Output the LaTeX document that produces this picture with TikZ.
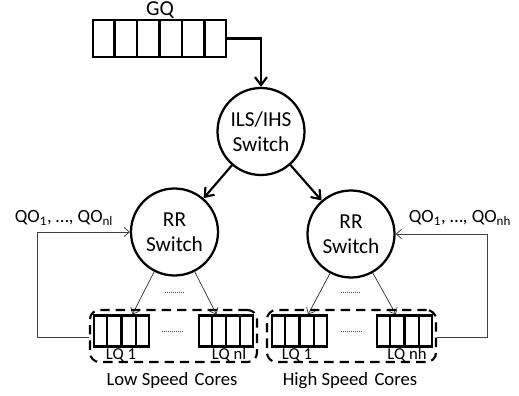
\documentclass[tikz,border=0pt]{standalone}
\usepackage{fontspec}
\setmainfont{Carlito}
\usetikzlibrary{arrows.meta,calc}
\begin{document}
\begin{tikzpicture}[x=0.75pt,y=-0.75pt,
  thickln/.style={line width=1.6pt},
  queuebox/.style={draw,line width=1.6pt,rectangle,inner sep=0pt},
  switchnode/.style={draw,circle,line width=1.7pt,inner sep=0pt,minimum size=65.25pt,align=center,font=\fontsize{16}{19}\selectfont},
  corebox/.style={draw,line width=1.6pt,dash pattern=on 7pt off 4.5pt,rounded corners=7pt,rectangle,inner sep=0pt,minimum height=39pt},
  bigarrow/.style={line width=1.6pt,-{Straight Barb[length=6pt,width=9pt,line width=1.6pt]}},
  thinarrow/.style={line width=0.5pt,black!85,-{Straight Barb[length=4pt,width=7pt]}},
  fbline/.style={line width=0.6pt,black!75,-{Straight Barb[length=4pt,width=7pt]}},
  dotln/.style={line width=0.5pt,dash pattern=on 0.6pt off 0.9pt,black!70},
  qlabel/.style={font=\fontsize{12.5}{14}\selectfont,inner sep=0pt,anchor=base},
  grouplabel/.style={font=\fontsize{14}{16}\selectfont,inner sep=0pt,anchor=base},
  qolabel/.style={font=\fontsize{14}{16}\selectfont,inner sep=0pt},
]
\useasboundingbox (0,0) rectangle (519,396);

% Global queue
\node[queuebox,minimum width=99.75pt,minimum height=27.75pt] (gq) at (159.5,38.5) {};
\foreach \i in {1,...,5}
  \draw[thickln] ($(gq.north west)!\i/6!(gq.north east)$) -- ($(gq.south west)!\i/6!(gq.south east)$);
\node[font=\fontsize{16}{19}\selectfont,inner sep=0pt] (gqlabel) at (160,10) {GQ};

% Switches
\node[switchnode] (ils) at (261,131.5) {ILS/IHS\\Switch};
\node[switchnode] (rrl) at (174.5,232) {RR\\Switch};
\node[switchnode] (rrr) at (351,234) {RR\\Switch};

\draw[bigarrow] (gq.east) -| (ils.north);
\draw[bigarrow] (ils) -- (rrl);
\draw[bigarrow] (ils) -- (rrr);

% Core groups
\node[corebox,minimum width=125.25pt] (lowbox) at (173.5,336) {};
\node[corebox,minimum width=126.75pt] (highbox) at (351.5,336) {};

% Local queues
\node[queuebox,minimum width=41.25pt,minimum height=23.25pt] (lq1l) at (121.5,331) {};
\node[queuebox,minimum width=40.5pt,minimum height=23.25pt] (lqnl) at (226,331) {};
\node[queuebox,minimum width=41.25pt,minimum height=23.25pt] (lq1h) at (299.5,331) {};
\node[queuebox,minimum width=41.25pt,minimum height=23.25pt] (lqnh) at (404.5,331) {};
\foreach \q in {lq1l,lqnl,lq1h,lqnh}
  \foreach \i in {1,2,3}
    \draw[thickln] ($(\q.north west)!\i/4!(\q.north east)$) -- ($(\q.south west)!\i/4!(\q.south east)$);

\node[qlabel] (t1l) at (121,359) {LQ 1};
\node[qlabel] (tnl) at (229,359) {LQ nl};
\node[qlabel] (t1h) at (297,359) {LQ 1};
\node[qlabel] (tnh) at (407,359) {LQ nh};

\node[grouplabel] (lowlabel) at (172,385) {Low Speed\,\,Cores};
\node[grouplabel] (highlabel) at (350,385) {High Speed\,\,Cores};

% Dispatch arrows
\coordinate (a1) at ($(lq1l.north west)!0.69!(lq1l.north east)$);
\coordinate (a2) at ($(lqnl.north west)!0.33!(lqnl.north east)$);
\coordinate (a3) at ($(lq1h.north west)!0.65!(lq1h.north east)$);
\coordinate (a4) at ($(lqnh.north west)!0.35!(lqnh.north east)$);
\draw[thinarrow] (rrl) -- (a1);
\draw[thinarrow] (rrl) -- (a2);
\draw[thinarrow] (rrr) -- (a3);
\draw[thinarrow] (rrr) -- (a4);

% Ellipsis dots
\draw[dotln] (165,292) -- (185,292);
\draw[dotln] (162,331) -- (183,331);
\draw[dotln] (341,292) -- (361,292);
\draw[dotln] (341,331) -- (362,331);

% Feedback lines
\coordinate (fl) at (37,337);
\coordinate (fr) at (487,337);
\draw[fbline] (lowbox.west |- fl) -- (fl) |- (rrl.west);
\draw[fbline] (highbox.east |- fr) -- (fr) |- (rrr.east);

\node[qolabel] (qol) at (64,218) {QO\textsubscript{1}, …, QO\textsubscript{nl}};
\node[qolabel] (qor) at (460,218) {QO\textsubscript{1}, …, QO\textsubscript{nh}};
\end{tikzpicture}
\end{document}
